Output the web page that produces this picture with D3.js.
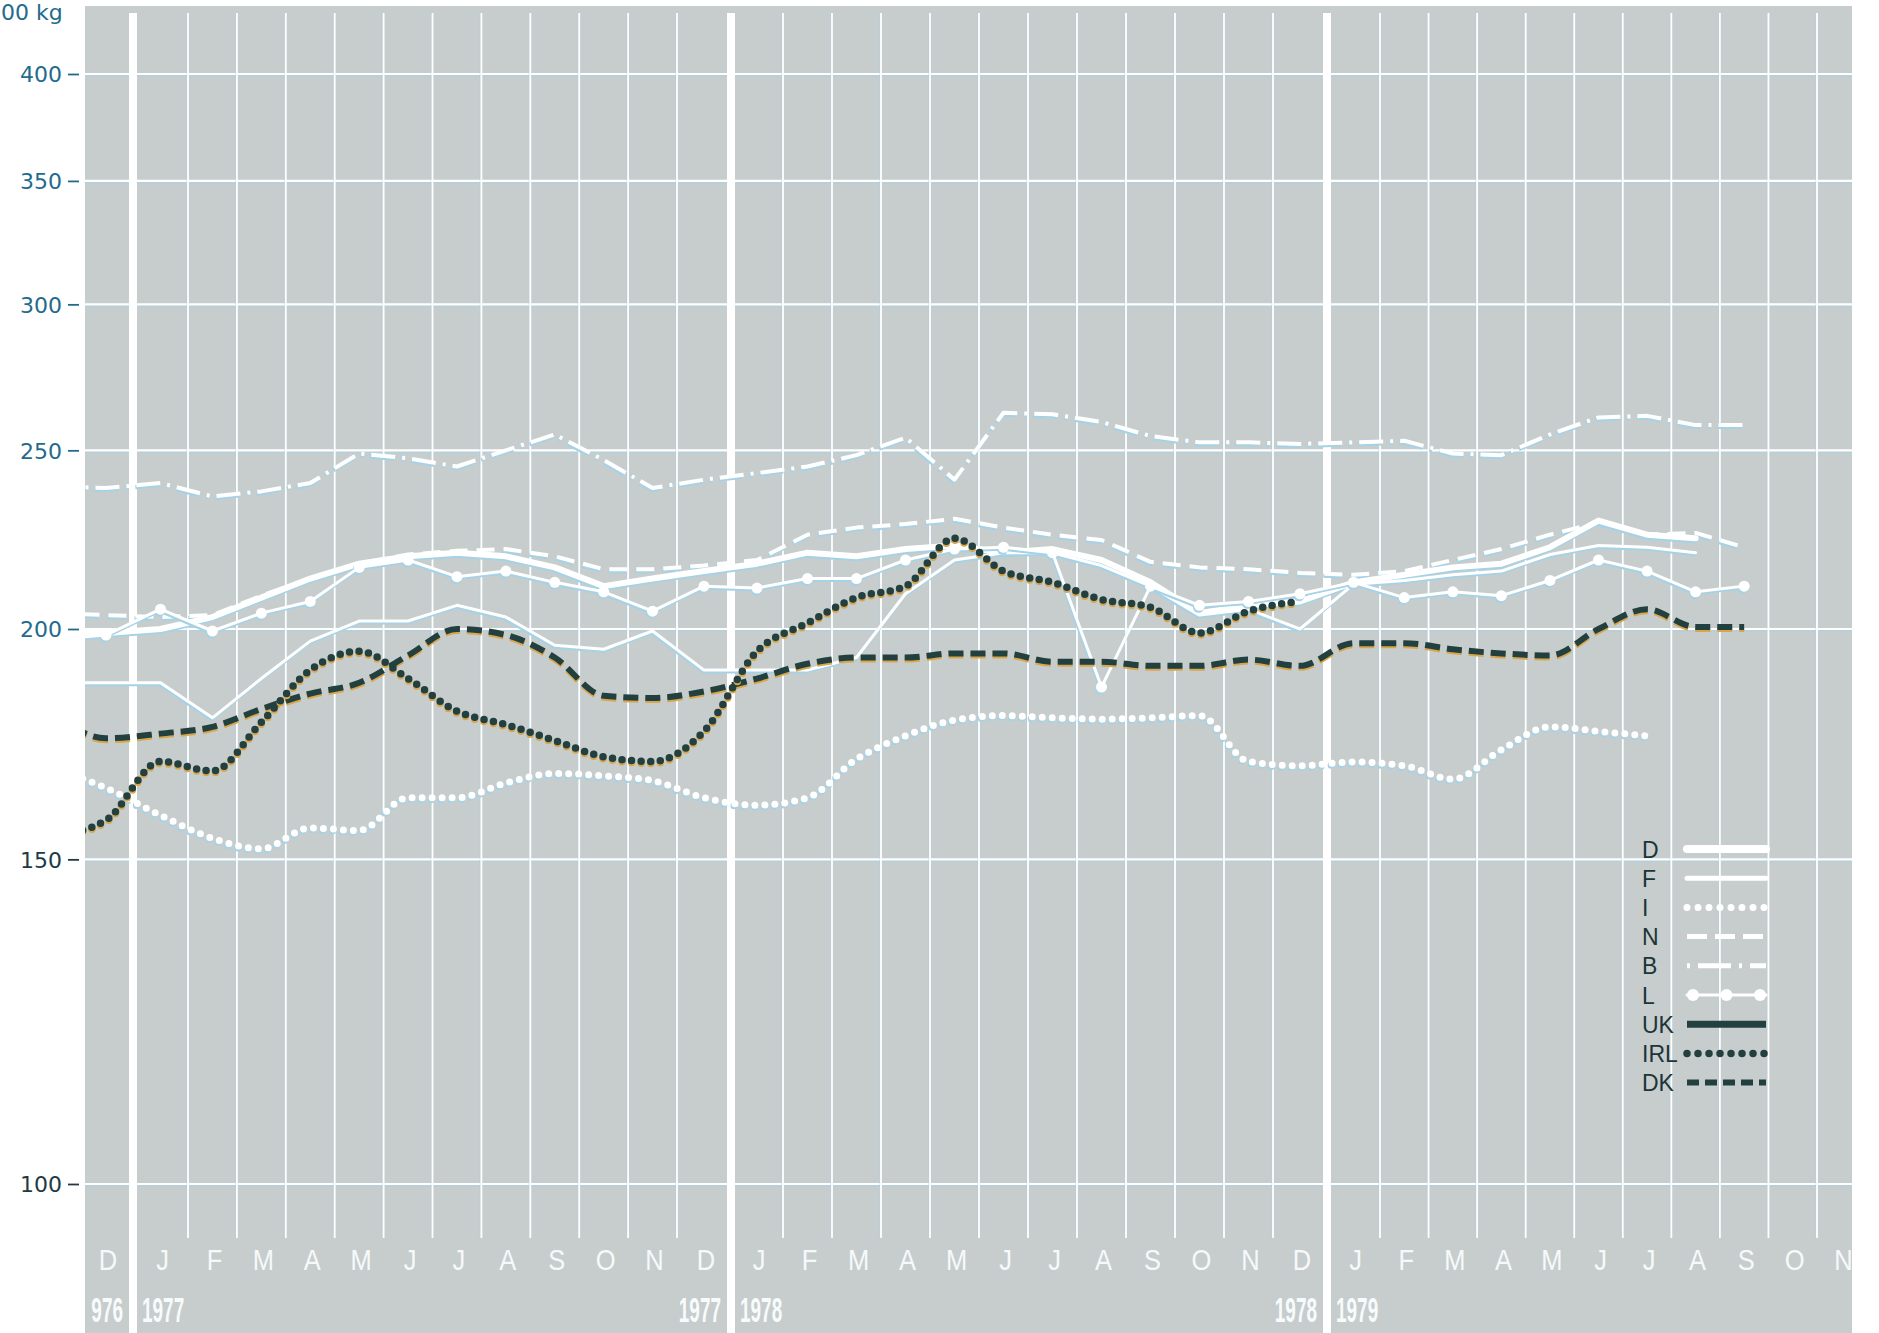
<!DOCTYPE html>
<html><head><meta charset="utf-8">
<script src="https://cdn.jsdelivr.net/npm/d3@7"></script>
<style>html,body{margin:0;padding:0;background:#fff;} svg{display:block;}</style>
</head><body>
<svg id="chart" width="1879" height="1333"></svg>
<script>
// ---------------- DATA ----------------
// monthly periods, Nov 1976 (partly hidden at the left edge) .. Sep 1979
const periods = ["1976-11","1976-12",
  "1977-01","1977-02","1977-03","1977-04","1977-05","1977-06","1977-07","1977-08","1977-09","1977-10","1977-11","1977-12",
  "1978-01","1978-02","1978-03","1978-04","1978-05","1978-06","1978-07","1978-08","1978-09","1978-10","1978-11","1978-12",
  "1979-01","1979-02","1979-03","1979-04","1979-05","1979-06","1979-07","1979-08","1979-09"];

// axis month letters, Dec 1976 .. Nov 1979
const monthLabels = ["D","J","F","M","A","M","J","J","A","S","O","N",
  "D","J","F","M","A","M","J","J","A","S","O","N",
  "D","J","F","M","A","M","J","J","A","S","O","N"];
// year captions as printed (the first one is cut by the page edge in the original)
const years = ["976","1977","1978","1979"];
const yTicks = [100,150,200,250,300,350,400];
const unitLabel = "00 kg";

// series values (per 100 kg), aligned with periods
const D   = [199.5,199,200,203,208,213,217,219,220,219,216,211,213,215,217,220,219,221,222,220,221,218,212,204,206,207,212,214,216,217,221.5,229,225,224,null];
const F   = [187,187,187,179,188,197,202,202,206,203,196,195,199.5,190,190,190,193,209,218,220,220,216.5,211,203.5,205,200,211.5,212.5,214,215,219.5,222,221.5,220,null];
const I   = [168,164,158.5,154,152,156,155.5,162,162,165,167,166.5,165.5,162,160.5,162,170,175,178.5,179.5,179,178.7,179,179.5,169.5,168.6,169.4,168.6,165.8,172,177,176,175,null,null];
const N   = [204,203.5,203,203.5,208.5,213,217,219.5,220.5,221,219,215.5,215.5,216.5,218,225,227,228,229.5,227,225,223.5,217.5,216,215.5,214.5,214,215,218,221,225,228.5,225,225.5,221.5];
const B   = [239,238.5,240,236,237.5,240,249,247.5,245,250,255,247,238.5,241,243,245,248.5,254,241,262,261.5,259,254.5,252.5,252.5,252,252.5,253,249,248.5,255,260.5,261,258,258];
const L   = [197.5,198.5,205,199.5,204,207,216,218,213.5,215,212,209.5,204.5,211,210.5,213,213,218,221,221.5,220,186,211,206,207,209,212,208,209.5,208.5,212.5,218,215,209.5,211];
const UK  = [];
const IRL = [154.5,157.5,169.5,167.5,178,190,194.5,188,180.5,177.5,174,170.5,169.5,176,194.5,201.5,208,211,224,215,212,207.5,205.5,199,204.5,207];
const DK  = [179.5,174.5,175.5,177,181,184.5,187,193.5,200,198.5,193,184,183.5,185,188,191.5,193,193,194,194,192,192,191,191,192.5,191,196.5,196.5,195,194,193.5,200,205,200.5,200.5];

const legendKeys = ["D","F","I","N","B","L","UK","IRL","DK"];

// ---------------- LAYOUT / STYLE ----------------
const svg = d3.select("#chart");
const plot = {left:85, right:1852, top:6, bottom:1333};
const gridTop = 13, gridBottom = 1238;
const yearBreaks = [1,13,25];           // month-cell boundaries that carry a year bar
const GRAY = "#c7cdcd", WHITE = "#ffffff", DARK = "#22403f";
const BLUE_SHADOW = "#a6d2e6", ORANGE_SHADOW = "#d9a64c";

const y = d3.scaleLog().domain([100,400]).range([1184,74]);
// piecewise month scale: cells next to a year bar are a little wider
const x = d3.scaleLinear()
  .domain([-1,0,1,2,12,13,14,24,25,26,35,36])
  .range([30,79,133,188,677,731,783,1273,1327,1380,1817,1866]);
const tOf = i => i - 0.5;   // period index -> month coordinate (cell centre)

svg.append("rect").attr("width",1879).attr("height",1333).attr("fill","#fff");
svg.append("rect").attr("x",plot.left).attr("y",plot.top)
  .attr("width",plot.right-plot.left).attr("height",plot.bottom-plot.top).attr("fill",GRAY);

svg.append("clipPath").attr("id","clip").append("rect")
  .attr("x",plot.left).attr("y",plot.top)
  .attr("width",plot.right-plot.left).attr("height",plot.bottom-plot.top);

const grid = svg.append("g");
// horizontal grid lines
yTicks.forEach(v => {
  grid.append("line").attr("x1",plot.left).attr("x2",plot.right)
    .attr("y1",y(v)+2).attr("y2",y(v)+2).attr("stroke",BLUE_SHADOW).attr("stroke-width",1.2).attr("opacity",0.8);
  grid.append("line").attr("x1",plot.left).attr("x2",plot.right)
    .attr("y1",y(v)).attr("y2",y(v)).attr("stroke",WHITE).attr("stroke-width",2.2);
});
// thin month lines
const thin = d3.range(0,37).filter(t => !yearBreaks.includes(t) && x(t) > plot.left && x(t) < plot.right);
thin.forEach(t => {
  grid.append("line").attr("x1",x(t)-1.5).attr("x2",x(t)-1.5).attr("y1",gridTop).attr("y2",gridBottom)
    .attr("stroke",BLUE_SHADOW).attr("stroke-width",1).attr("opacity",0.35);
  grid.append("line").attr("x1",x(t)).attr("x2",x(t)).attr("y1",gridTop).attr("y2",gridBottom)
    .attr("stroke",WHITE).attr("stroke-width",1.8);
});
// thick year bars
yearBreaks.forEach(t => {
  grid.append("line").attr("x1",x(t)).attr("x2",x(t)).attr("y1",gridTop).attr("y2",plot.bottom)
    .attr("stroke",WHITE).attr("stroke-width",8);
});

// month letters
const mg = svg.append("g");
monthLabels.forEach((m,k) => {
  mg.append("text").attr("transform",`translate(${x(k+0.5)+2},1270) scale(0.85,1)`)
    .attr("text-anchor","middle").attr("font-family","'Liberation Sans', Arial, sans-serif")
    .attr("font-size",30).attr("fill","#f6f9fa").text(m);
});
// year labels either side of each year bar
yearBreaks.forEach((t,k) => {
  mg.append("text").attr("transform",`translate(${x(t)-10},1322) scale(0.55,1)`)
    .attr("text-anchor","end").attr("font-family","'Liberation Sans', Arial, sans-serif")
    .attr("font-size",34.5).attr("font-weight","bold").attr("fill","#f8fbfc").text(years[k]);
  mg.append("text").attr("transform",`translate(${x(t)+9},1322) scale(0.55,1)`)
    .attr("text-anchor","start").attr("font-family","'Liberation Sans', Arial, sans-serif")
    .attr("font-size",34.5).attr("font-weight","bold").attr("fill","#f8fbfc").text(years[k+1]);
});

// y axis
const labelColor = v => v >= 200 ? "#236b8c" : "#1d3a45";
const yAxis = svg.append("g").attr("transform","translate(79,0)")
  .call(d3.axisLeft(y).tickValues(yTicks).tickSize(11).tickPadding(6).tickFormat(d3.format("d")));
yAxis.select(".domain").remove();
yAxis.selectAll(".tick line").attr("stroke",labelColor).attr("stroke-width",1.8);
yAxis.selectAll(".tick text").attr("fill",labelColor)
  .attr("font-family","'DejaVu Sans', sans-serif").attr("font-size",22).attr("dy","0.36em");
svg.append("text").attr("x",1).attr("y",20).attr("font-family","'DejaVu Sans', sans-serif")
  .attr("font-size",22).attr("fill","#236b8c").text(unitLabel);

// ---------------- SERIES ----------------
const styles = {
  D:   {data:D,   color:WHITE, width:6, dash:null,        cap:"round", curve:d3.curveLinear},
  F:   {data:F,   color:WHITE, width:3, dash:null,        cap:"round", curve:d3.curveLinear},
  I:   {data:I,   color:WHITE, width:7, dash:"0,10",      cap:"round", curve:d3.curveMonotoneX},
  N:   {data:N,   color:WHITE, width:4, dash:"18,9",      cap:"butt",  curve:d3.curveLinear},
  B:   {data:B,   color:WHITE, width:4, dash:"24,7,3,7",  cap:"butt",  curve:d3.curveLinear},
  L:   {data:L,   color:WHITE, width:3, dash:null,        cap:"round", curve:d3.curveLinear, marker:5.5},
  UK:  {data:UK,  color:DARK,  width:7, dash:null,        cap:"butt",  curve:d3.curveMonotoneX},
  IRL: {data:IRL, color:DARK,  width:7.5, dash:"0,9.6",   cap:"round", curve:d3.curveMonotoneX},
  DK:  {data:DK,  color:DARK,  width:6, dash:"15,7",      cap:"butt",  curve:d3.curveMonotoneX}
};
const drawOrder = ["B","N","D","F","L","I","UK","DK","IRL"];

const sg = svg.append("g").attr("clip-path","url(#clip)");
drawOrder.forEach(key => {
  const s = styles[key];
  const pts = s.data.map((v,i) => ({t:tOf(i), v:v})).filter(d => d.v != null);
  if (!pts.length) return;
  const line = d3.line().x(d => x(d.t)).y(d => y(d.v)).curve(s.curve);
  const shadow = s.color === WHITE ? BLUE_SHADOW : ORANGE_SHADOW;
  const sh = s.color === WHITE ? "translate(-1,2)" : "translate(0,2)";
  [[shadow, sh],[s.color, null]].forEach(([c,tr]) => {
    const g = sg.append("g"); if (tr) g.attr("transform",tr);
    g.append("path").attr("d",line(pts)).attr("fill","none").attr("stroke",c)
      .attr("stroke-width",s.width).attr("stroke-dasharray",s.dash)
      .attr("stroke-linecap",s.cap).attr("stroke-linejoin","round");
    if (s.marker) g.selectAll("circle").data(pts).join("circle")
      .attr("cx",d => x(d.t)).attr("cy",d => y(d.v)).attr("r",s.marker).attr("fill",c);
  });
});

// ---------------- LEGEND ----------------
const lg = svg.append("g");
const lx0 = 1687, lx1 = 1766, ly0 = 849, lstep = 29.2;
legendKeys.forEach((key,k) => {
  const s = styles[key], yy = ly0 + k*lstep;
  lg.append("text").attr("x",1642).attr("y",yy+8.5).attr("font-family","'Liberation Sans', Arial, sans-serif")
    .attr("font-size",23).attr("fill","#1c3537").text(key);
  const w = key === "D" ? 8 : key === "F" ? 5 : key === "N" || key === "B" ? 5 : s.width;
  lg.append("line").attr("x1",lx0).attr("x2",lx1).attr("y1",yy).attr("y2",yy)
    .attr("stroke",s.color).attr("stroke-width",w).attr("stroke-dasharray",key==="B" ? "3,8,33,8" : key==="DK" ? "12,6" : key==="N" ? "20,8" : key==="I"||key==="IRL" ? "0,11" : s.dash)
    .attr("stroke-linecap",s.cap);
  if (s.marker) [lx0+6, (lx0+lx1)/2, lx1-6].forEach(cx =>
    lg.append("circle").attr("cx",cx).attr("cy",yy).attr("r",6).attr("fill",s.color));
});
</script>
</body></html>
